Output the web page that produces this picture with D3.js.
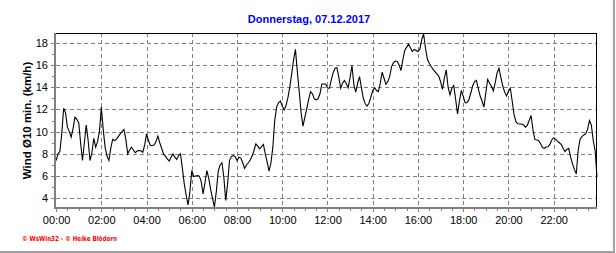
<!DOCTYPE html>
<html><head><meta charset="utf-8">
<script src="https://cdn.jsdelivr.net/npm/d3@7"></script>
<style>body{margin:0;background:#fff}svg{display:block}</style>
</head><body>
<script>
const title = "Donnerstag, 07.12.2017";
const yLabel = "Wind Ø10 min. (km/h)";
const footer = "© WsWin32 - © Heike Blödorn";
const stepMinutes = 5;
const windValues = [
7.4, 8.0, 8.2, 9.8, 12.1, 11.7, 10.4, 10.0, 9.5, 10.3,
11.3, 11.1, 10.8, 9.0, 7.4, 9.0, 10.6, 9.2, 7.4, 8.1,
9.4, 8.6, 9.1, 10.0, 12.2, 10.2, 8.6, 7.8, 7.4, 8.5,
9.3, 9.2, 9.3, 9.55, 9.8, 10.0, 10.2, 9.3, 8.0, 8.35,
8.6, 8.35, 8.1, 8.25, 8.3, 8.28, 8.15, 8.8,
9.8, 9.2, 8.75, 8.75, 8.8, 9.1, 9.6, 9.0, 8.5, 8.0,
7.8, 7.55, 7.35, 7.7, 8.0, 7.7, 7.5, 7.85, 8.0, 6.7,
5.3, 4.3, 3.4, 4.6, 6.5, 5.95, 6.0, 6.05, 6.0, 5.5,
4.4, 5.4, 6.5, 5.8, 4.8, 4.0, 3.2, 4.6, 6.4, 7.0,
7.2, 5.9, 3.8, 5.3, 7.4, 7.75, 7.85, 7.75,
7.4, 7.7, 7.62, 7.2, 6.7, 7.0, 7.2, 7.45, 7.8, 8.3,
8.9, 8.7, 8.45, 8.65, 8.85, 8.0, 7.25, 6.45, 7.2, 8.6,
11.0, 12.2, 12.6, 12.75, 12.3, 11.95, 12.35, 13.05, 14.0, 15.2,
16.45, 17.4, 15.4, 13.6, 11.7, 10.5, 11.3, 12.05, 12.9, 13.6,
13.4, 12.95, 12.85, 12.95, 13.4, 14.28, 14.28, 14.28,
13.95, 13.9, 14.65, 15.3, 15.7, 15.75, 14.9, 13.9, 14.35, 14.6,
14.3, 13.95, 14.9, 15.95, 14.2, 13.55, 14.35, 14.95, 13.95, 13.0,
12.5, 12.3, 12.55, 13.1, 13.7, 13.95, 13.7, 13.6, 14.35, 15.35,
14.8, 14.25, 14.5, 14.95, 15.85, 16.2, 16.35, 16.3, 16.0, 15.5,
16.5, 17.3, 17.6, 17.85, 17.55, 17.2, 17.4, 17.3,
17.2, 17.4, 18.3, 18.78, 17.5, 16.5, 16.15, 15.85, 15.6, 15.4,
15.2, 15.0, 14.5, 13.8, 14.8, 15.55, 14.0, 13.3, 13.9, 14.15,
12.9, 11.6, 12.75, 13.7, 13.2, 12.6, 12.6, 12.85, 13.45, 14.1,
14.5, 14.6, 13.9, 13.2, 12.75, 12.2, 13.5, 14.7, 14.35, 14.05,
13.65, 14.4, 15.3, 15.7, 14.85, 14.1, 13.55, 13.2,
13.6, 13.9, 12.75, 11.5, 10.9, 10.7, 10.68, 10.68, 10.6, 10.4,
10.55, 11.0, 11.45, 10.2, 9.3, 9.24, 9.2, 8.93, 8.58, 8.5,
8.62, 8.64, 8.85, 9.25, 9.45, 9.33, 9.15, 9.0, 8.85, 8.5,
8.2, 8.4, 8.5, 7.7, 7.1, 6.6, 6.2, 8.3, 9.3, 9.55,
9.7, 9.8, 10.2, 11.0, 10.6, 9.2, 8.3, 5.9
];
const xTickLabels = ["00:00","02:00","04:00","06:00","08:00","10:00","12:00","14:00","16:00","18:00","20:00","22:00"];
const xTickMinutes = [0,120,240,360,480,600,720,840,960,1080,1200,1320];
const yTickValues = [4,6,8,10,12,14,16,18];
const yMinorValues = [4,5,6,7,8,9,10,11,12,13,14,15,16,17,18];

const W = 616, H = 253;
const svg = d3.select("body").append("svg").attr("width", W).attr("height", H);

const x = d3.scaleLinear().domain([0, (windValues.length - 1) * stepMinutes]).range([56.1, 597]);
const y = d3.scaleLinear().domain([3.13, 18.87]).range([208, 33]);
const L = 55, R = 597, T = 33, B = 208;

// outer gray frame (bottom & right)
svg.append("rect").attr("x", 0).attr("y", 251).attr("width", 615).attr("height", 2).attr("fill", "#a0a0a0");
svg.append("rect").attr("x", 613).attr("y", 0).attr("width", 2).attr("height", 253).attr("fill", "#a0a0a0");

// title
svg.append("text").attr("x", 309).attr("y", 22.5).attr("text-anchor", "middle")
  .attr("font-family", "Liberation Sans, Arial, sans-serif").attr("font-weight", "bold")
  .attr("font-size", 11).attr("fill", "#0000ff").text(title);

// grid
const grid = svg.append("g").attr("stroke", "#808080").attr("stroke-width", 1).attr("stroke-dasharray", "4,3").attr("shape-rendering", "crispEdges");
grid.selectAll("line.h").data(yTickValues).join("line").attr("class", "h")
  .attr("x1", L + 1).attr("x2", R).attr("y1", d => Math.round(y(d)) + 0.5).attr("y2", d => Math.round(y(d)) + 0.5);
grid.selectAll("line.v").data(xTickMinutes.slice(1)).join("line").attr("class", "v")
  .attr("x1", d => Math.round(x(d)) + 0.5).attr("x2", d => Math.round(x(d)) + 0.5).attr("y1", T).attr("y2", B);

// frame top/right
svg.append("line").attr("x1", L).attr("x2", R).attr("y1", T + 0.5).attr("y2", T + 0.5).attr("stroke", "#000").attr("shape-rendering", "crispEdges");
svg.append("line").attr("x1", R - 0.5).attr("x2", R - 0.5).attr("y1", T).attr("y2", B).attr("stroke", "#000").attr("shape-rendering", "crispEdges");

// data line
const line = d3.line().x((d, i) => x(i * stepMinutes)).y(d => y(d));
svg.append("path").datum(windValues).attr("d", line).attr("fill", "none").attr("stroke", "#000").attr("stroke-width", 1.1).attr("stroke-linejoin", "miter");

// axes
const font = "Liberation Sans, Arial, sans-serif";
const yAxis = svg.append("g").attr("transform", `translate(${L},0)`)
  .call(d3.axisLeft(y).tickValues(yTickValues).tickSize(4).tickPadding(3).tickFormat(d3.format("d")));
const yMinor = svg.append("g").attr("transform", `translate(${L},0)`)
  .call(d3.axisLeft(y).tickValues(yMinorValues).tickSize(3).tickFormat(""));
const xAxis = svg.append("g").attr("transform", `translate(0,${B})`)
  .call(d3.axisBottom(x).tickValues(xTickMinutes).tickSize(4).tickPadding(4).tickFormat((d, i) => xTickLabels[i]));
const xMinor = svg.append("g").attr("transform", `translate(0,${B})`)
  .call(d3.axisBottom(x).tickValues(d3.range(0, 1440, 30)).tickSize(3).tickFormat(""));
[yAxis, yMinor, xAxis, xMinor].forEach(g => {
  g.select(".domain").remove();
  g.selectAll(".tick line").attr("stroke", "#808080").attr("shape-rendering", "crispEdges");
  g.selectAll("text").attr("font-family", font).attr("font-size", 11).attr("fill", "#000");
});
// gray axis lines
svg.append("rect").attr("x", 54).attr("y", T).attr("width", 2).attr("height", B - T + 1).attr("fill", "#808080");
svg.append("rect").attr("x", 54).attr("y", 207).attr("width", R - 54).attr("height", 2).attr("fill", "#808080");

// y label
svg.append("text").attr("transform", "translate(31,120.5) rotate(-90)").attr("text-anchor", "middle")
  .attr("font-family", font).attr("font-weight", "bold").attr("font-size", 11.5).attr("fill", "#000").text(yLabel);

// footer
svg.append("text").attr("x", 22).attr("y", 241).attr("font-family", "DejaVu Sans, sans-serif")
  .attr("font-weight", "bold").attr("font-size", 7).attr("fill", "#ff0000")
  .attr("textLength", 95).attr("lengthAdjust", "spacingAndGlyphs").text(footer);
</script>
</body></html>
